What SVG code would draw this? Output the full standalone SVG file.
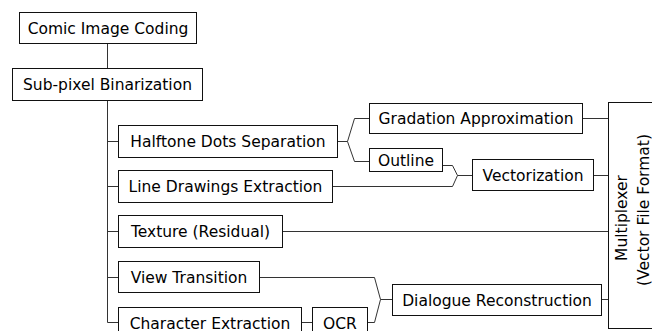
<svg xmlns="http://www.w3.org/2000/svg" width="652" height="331" viewBox="0 0 652 331">
  <style>
    .box { fill: #fff; stroke: #111; stroke-width: 1; }
    .lbl { font-family: "DejaVu Sans", "Liberation Sans", sans-serif; font-size: 15.5px; fill: #000; text-anchor: middle; }
    .wire { fill: none; stroke: #333; stroke-width: 1; }
  </style>
  <rect width="652" height="331" fill="#fff"/>

  <!-- connectors -->
  <g id="connectors">
    <!-- trunk -->
    <path class="wire" d="M107.5,43.5 V68.5"/>
    <path class="wire" d="M107.5,100.5 V322.5 H118.5"/>
    <path class="wire" d="M107.5,141.5 H118.5"/>
    <path class="wire" d="M107.5,186.5 H118.5"/>
    <path class="wire" d="M107.5,231.5 H118.5"/>
    <path class="wire" d="M107.5,277.5 H118.5"/>
    <!-- halftone split -->
    <path class="wire" d="M337.5,141.5 H347.5"/>
    <path class="wire" d="M369.5,118.5 H354.5 L347.5,141.5 L354.5,161.5 H369.5"/>
    <!-- outline + line drawings join -->
    <path class="wire" d="M442.5,165.5 H452.5 L457.5,175.5 L452.5,186.5 H332.5"/>
    <path class="wire" d="M457.5,175.5 H472.5"/>
    <!-- into multiplexer -->
    <path class="wire" d="M582.5,118.5 H608.5"/>
    <path class="wire" d="M593.5,175.5 H608.5"/>
    <path class="wire" d="M282.5,231.5 H608.5"/>
    <path class="wire" d="M601.5,299.5 H608.5"/>
    <!-- dialogue join -->
    <path class="wire" d="M259.5,277.5 H374.5 L380.5,299.5 L374.5,322.5 H367.5"/>
    <path class="wire" d="M380.5,299.5 H392.5"/>
    <path class="wire" d="M301.5,322.5 H312.5"/>
  </g>

  <g id="comic-image-coding">
    <rect class="box" x="19.5" y="12.5" width="177" height="31"/>
    <text class="lbl" x="108" y="33.5">Comic Image Coding</text>
  </g>
  <g id="sub-pixel-binarization">
    <rect class="box" x="12.5" y="68.5" width="190" height="32"/>
    <text class="lbl" x="107.5" y="90">Sub-pixel Binarization</text>
  </g>
  <g id="halftone-dots-separation">
    <rect class="box" x="118.5" y="125.5" width="219" height="32"/>
    <text class="lbl" x="228" y="147">Halftone Dots Separation</text>
  </g>
  <g id="line-drawings-extraction">
    <rect class="box" x="118.5" y="170.5" width="214" height="32"/>
    <text class="lbl" x="225.5" y="192">Line Drawings Extraction</text>
  </g>
  <g id="texture-residual">
    <rect class="box" x="118.5" y="215.5" width="164" height="32"/>
    <text class="lbl" x="200.5" y="237">Texture (Residual)</text>
  </g>
  <g id="view-transition">
    <rect class="box" x="118.5" y="261.5" width="141" height="31"/>
    <text class="lbl" x="189" y="282.5">View Transition</text>
  </g>
  <g id="character-extraction">
    <rect class="box" x="118.5" y="307.5" width="183" height="32"/>
    <text class="lbl" x="210" y="328.5">Character Extraction</text>
  </g>
  <g id="ocr">
    <rect class="box" x="312.5" y="307.5" width="55" height="32"/>
    <text class="lbl" x="340" y="328.5">OCR</text>
  </g>
  <g id="gradation-approximation">
    <rect class="box" x="369.5" y="103.5" width="213" height="30"/>
    <text class="lbl" x="476" y="124">Gradation Approximation</text>
  </g>
  <g id="outline">
    <rect class="box" x="369.5" y="148.5" width="73" height="23"/>
    <text class="lbl" x="406" y="165.5">Outline</text>
  </g>
  <g id="vectorization">
    <rect class="box" x="472.5" y="159.5" width="121" height="31"/>
    <text class="lbl" x="533" y="181">Vectorization</text>
  </g>
  <g id="dialogue-reconstruction">
    <rect class="box" x="392.5" y="284.5" width="209" height="31"/>
    <text class="lbl" x="497" y="305.5">Dialogue Reconstruction</text>
  </g>
  <g id="multiplexer">
    <rect class="box" x="608.5" y="102.5" width="60" height="226"/>
    <text class="lbl" transform="translate(627,218) rotate(-90)">Multiplexer</text>
    <text class="lbl" transform="translate(649,210) rotate(-90)">(Vector File Format)</text>
  </g>
</svg>
